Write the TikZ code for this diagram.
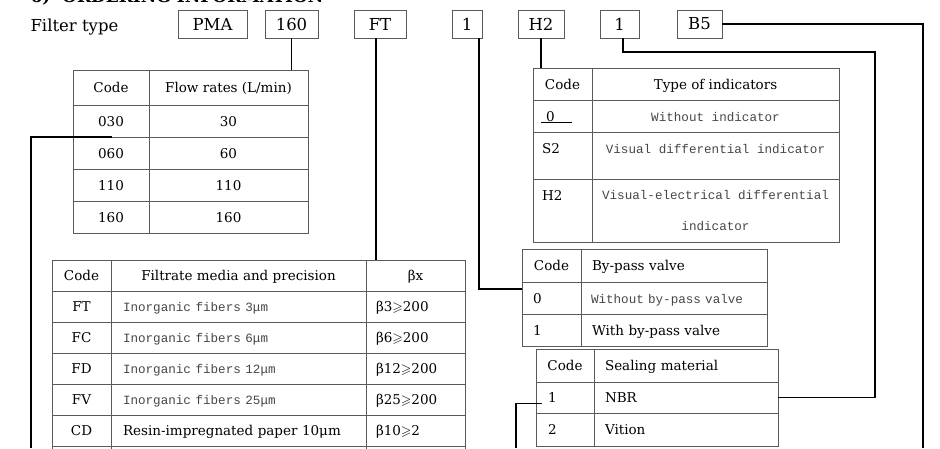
\documentclass[tikz,border=0pt]{standalone}
\usepackage{fontspec}
\usepackage{amssymb}
\setmainfont{DejaVu Serif}
\newfontfamily\monofont{Liberation Mono}
\usetikzlibrary{positioning}
\definecolor{rulegray}{HTML}{5A5A5A}
\definecolor{descgray}{HTML}{464646}
\newcommand\descfont{\monofont\fontsize{12.6}{14}\selectfont\color{descgray}}

\begin{document}
\begin{tikzpicture}[x=1pt,y=-1pt]
\tikzstyle{codebox}=[draw=rulegray,line width=0.8pt,minimum height=28pt,inner xsep=0pt,font=\fontsize{16.5}{18}\selectfont]
\tikzstyle{frame}=[draw=rulegray,line width=0.8pt,anchor=north west,inner sep=0pt,outer sep=0pt]
\tikzstyle{cell}=[frame,text height=10pt,text depth=0pt,font=\fontsize{13.5}{16}\selectfont]
\tikzstyle{lcell}=[cell,align=left]
\tikzstyle{desc}=[font=\monofont\fontsize{12.6}{14}\selectfont,text=descgray]
\tikzstyle{link}=[line width=1.3pt]

\path[use as bounding box,clip] (0,0) rectangle (940,448);

%heading, cut at the top edge.
\node[anchor=base west,font=\bfseries\fontsize{17}{19}\selectfont] (title) at (27,2.5) {6)\ \ ORDERING INFORMATION};

%code boxes.
\node[anchor=base west,font=\fontsize{16.5}{18}\selectfont] (typeLabel) at (27,31) {Filter type};
\node[codebox,minimum width=69pt] (bType)   at (212.5,24) {PMA};
\node[codebox,minimum width=53pt] (bFlow)   at (291.5,24) {160};
\node[codebox,minimum width=52pt] (bMedia)  at (380,24)   {FT};
\node[codebox,minimum width=30pt] (bBypass) at (467,24)   {1};
\node[codebox,minimum width=46pt] (bInd)    at (541,24)   {H2};
\node[codebox,minimum width=39pt] (bSeal)   at (619.5,24) {1};
\node[codebox,minimum width=45pt] (bEnd)    at (699.5,24) {B5};

%flow rate table.
\node[cell,minimum width=76pt,minimum height=35pt] (flC0) at (73,70) {Code};
\node[cell,minimum width=159pt,minimum height=35pt] (flV0) at (149,70) {Flow rates (L/min)};
\foreach \c/\v [count=\i] in {030/30,060/60,110/110,160/160}{
  \node[cell,minimum width=76pt,minimum height=32pt] (flC\i) at (73,73+32*\i) {\c};
  \node[cell,minimum width=159pt,minimum height=32pt] (flV\i) at (149,73+32*\i) {\v};
}

%filtrate media table.
\node[cell,minimum width=59pt,minimum height=31pt] (mdC0) at (52,260) {Code};
\node[cell,minimum width=255pt,minimum height=31pt] (mdD0) at (111,260) {Filtrate media and precision};
\node[cell,minimum width=99pt,minimum height=31pt] (mdV0) at (366,260) {βx};
\foreach \c/\d/\b/\n/\f [count=\i] in {FT/Inorganic fibers 3μm/β3/200/\descfont,
    FC/Inorganic fibers 6μm/β6/200/\descfont,
    FD/Inorganic fibers 12μm/β12/200/\descfont,
    FV/Inorganic fibers 25μm/β25/200/\descfont,
    CD/Resin-impregnated paper 10μm/β10/2/\relax}{
  \node[cell,minimum width=59pt,minimum height=31pt] (mdC\i) at (52,260+31*\i) {\c};
  \node[lcell,text width=231pt,inner xsep=12pt,minimum height=31pt] (mdD\i) at (111,260+31*\i) {\f\d};
  \node[lcell,text width=79pt,inner xsep=10pt,minimum height=31pt] (mdV\i) at (366,260+31*\i) {\b$\geqslant$\n};
}
\foreach \x/\w in {52/59,111/255,366/99}
  \node[frame,minimum width=\w pt,minimum height=31pt] (mdE\x) at (\x,446) {};

%indicator table.
\node[cell,minimum width=59pt,minimum height=32pt] (inC0) at (533,68) {Code};
\node[cell,minimum width=247pt,minimum height=32pt] (inD0) at (592,68) {Type of indicators};
\node[lcell,text width=33pt,inner xsep=13pt,minimum height=32pt] (inC1) at (533,100) {0};
\node[cell,desc,minimum width=247pt,minimum height=32pt] (inD1) at (592,100) {Without indicator};
\node[lcell,text width=41pt,inner xsep=9pt,minimum height=47pt,text depth=14pt] (inC2) at (533,132) {S2};
\node[cell,desc,minimum width=247pt,minimum height=47pt,text depth=14pt] (inD2) at (592,132) {Visual differential indicator};
\node[lcell,text width=41pt,inner xsep=9pt,minimum height=63pt,text depth=30pt] (inC3) at (533,179) {H2};
\node[frame,desc,align=center,minimum width=247pt,minimum height=63pt] (inD3) at (592,179) {Visual-electrical differential\\[17pt]indicator};
\draw[line width=0.9pt] (inC1.south west) ++(8,-10) -- ++(31,0);

%by-pass table.
\node[cell,minimum width=59pt,minimum height=33pt] (bpC0) at (522,249) {Code};
\node[lcell,text width=164pt,inner xsep=11pt,minimum height=33pt] (bpD0) at (581,249) {By-pass valve};
\node[lcell,text width=37pt,inner xsep=11pt,minimum height=32pt] (bpC1) at (522,282) {0};
\node[lcell,desc,text width=166pt,inner xsep=10pt,minimum height=32pt] (bpD1) at (581,282) {Without by-pass valve};
\node[lcell,text width=37pt,inner xsep=11pt,minimum height=32pt] (bpC2) at (522,314) {1};
\node[lcell,text width=164pt,inner xsep=11pt,minimum height=32pt] (bpD2) at (581,314) {With by-pass valve};

%sealing table.
\node[cell,minimum width=58pt,minimum height=33pt] (slC0) at (536,349) {Code};
\node[lcell,text width=162pt,inner xsep=11pt,minimum height=33pt] (slD0) at (594,349) {Sealing material};
\node[lcell,text width=34pt,inner xsep=12pt,minimum height=31pt] (slC1) at (536,382) {1};
\node[lcell,text width=162pt,inner xsep=11pt,minimum height=31pt] (slD1) at (594,382) {NBR};
\node[lcell,text width=34pt,inner xsep=12pt,minimum height=33pt] (slC2) at (536,413) {2};
\node[lcell,text width=162pt,inner xsep=11pt,minimum height=33pt] (slD2) at (594,413) {Vition};

%connectors.
\coordinate (flowDrop) at (31,448);
\coordinate (sealDrop) at (516,448);
\coordinate (sealTurn) at (875,52);
\coordinate (endDrop)  at (923,448);

\draw[link] (bFlow.south) -- (bFlow.south |- flV0.north);
\draw[link] ([xshift=-4pt]bMedia.south) -- ([xshift=-4pt]bMedia.south |- mdD0.north);
\draw[link] ([xshift=12pt]bBypass.south) |- ([yshift=9pt]bpC1.west);
\draw[link] (bInd.south) -- (bInd.south |- inC0.north);
\draw[link] ([xshift=3.5pt]bSeal.south) |- (sealTurn) |- (slD1.east);
\draw[link] (bEnd.east) -| (endDrop);
\draw[link] ([xshift=39pt]flC1.south west) -| (flowDrop);
\draw[link] ([xshift=6pt,yshift=-6pt]slC1.west) -| (sealDrop);

\end{tikzpicture}
\end{document}
